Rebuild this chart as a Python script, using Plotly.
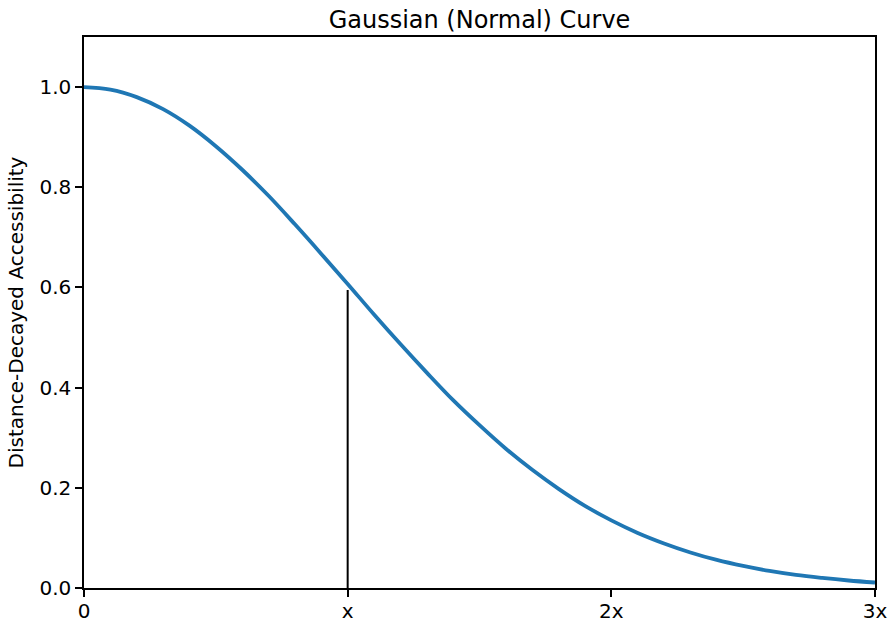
import plotly.graph_objects as go

distance = [0.0, 0.1, 0.2, 0.3, 0.4, 0.5, 0.6, 0.7, 0.8, 0.9, 1.0,
            1.1, 1.2, 1.3, 1.4, 1.5, 1.6, 1.7, 1.8, 1.9, 2.0,
            2.1, 2.2, 2.3, 2.4, 2.5, 2.6, 2.7, 2.8, 2.9, 3.0]
accessibility = [1.000, 0.995, 0.980, 0.956, 0.923, 0.882, 0.835, 0.783, 0.726, 0.667, 0.607,
                 0.546, 0.487, 0.430, 0.375, 0.325, 0.278, 0.236, 0.198, 0.164, 0.135,
                 0.110, 0.089, 0.071, 0.056, 0.044, 0.034, 0.026, 0.020, 0.015, 0.011]
marker_x = [1.0, 1.0]
marker_y = [0.0, 0.595]
x_tick_vals = [0, 1, 2, 3]
x_tick_text = ["0", "x", "2x", "3x"]
y_tick_vals = [0.0, 0.2, 0.4, 0.6, 0.8, 1.0]
y_tick_text = ["0.0", "0.2", "0.4", "0.6", "0.8", "1.0"]

fig = go.Figure()
fig.add_trace(go.Scatter(x=distance, y=accessibility, mode="lines",
                         line=dict(color="#1f77b4", width=3.8, shape="spline"),
                         showlegend=False, hoverinfo="skip"))
fig.add_trace(go.Scatter(x=marker_x, y=marker_y, mode="lines",
                         line=dict(color="black", width=2),
                         showlegend=False, hoverinfo="skip"))

font = "DejaVu Sans, sans-serif"
fig.update_layout(
    width=890, height=624,
    margin=dict(l=84, r=15, t=37, b=36, autoexpand=False),
    paper_bgcolor="white", plot_bgcolor="white",
    font=dict(family=font, size=20, color="black"),
    title=dict(text="Gaussian (Normal) Curve", x=0.5, xref="paper", xanchor="center",
               y=1, yref="paper", yanchor="bottom", pad=dict(b=9),
               font=dict(size=24, family=font, color="black")),
    xaxis=dict(range=[0, 3], tickvals=x_tick_vals, ticktext=x_tick_text,
               showgrid=False, zeroline=False, showline=True, linecolor="black",
               linewidth=1.5, mirror=True, ticks="outside", ticklen=7, tickwidth=1.5,
               tickcolor="black", tickfont=dict(size=20), automargin=False,
               ticklabelstandoff=-3),
    yaxis=dict(range=[0, 1.1], tickvals=y_tick_vals, ticktext=y_tick_text,
               showgrid=False, zeroline=False, showline=True, linecolor="black",
               linewidth=1.5, mirror=True, ticks="outside", ticklen=7, tickwidth=1.5,
               tickcolor="black", tickfont=dict(size=20), automargin=False,
               title=dict(text="Distance-Decayed Accessibility", font=dict(size=20), standoff=10)),
)
fig.write_html("out.html",
               config={"displayModeBar": False},
               post_script="document.body.style.margin='0';document.body.style.overflow='hidden';")
